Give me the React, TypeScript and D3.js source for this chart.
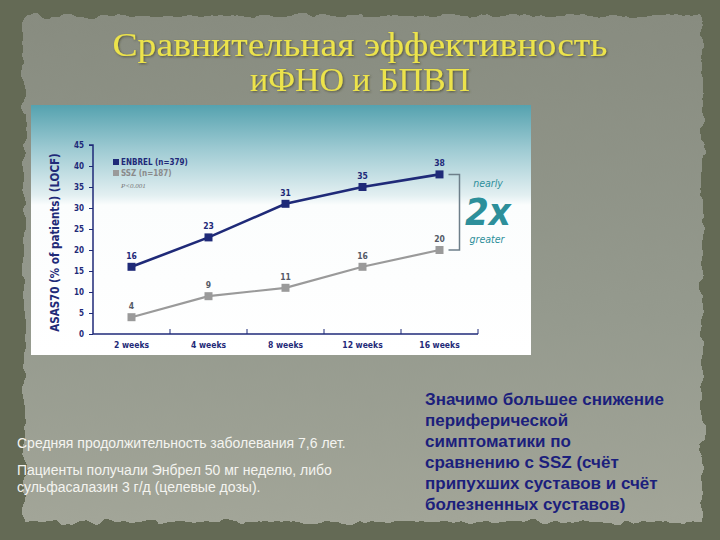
import * as d3 from "d3";
import { useEffect, useRef } from "react";

// chart data
const weeks = ["2 weeks", "4 weeks", "8 weeks", "12 weeks", "16 weeks"];
const enbrel = [16, 23, 31, 35, 38];
const ssz = [4, 9, 11, 16, 20];
const yTicks = [0, 5, 10, 15, 20, 25, 30, 35, 40, 45];

const titleLines = ["Сравнительная эффективность", "иФНО и БПВП"];
const noteLines = [
  "Средняя продолжительность заболевания 7,6 лет.",
  "",
  "Пациенты получали Энбрел 50 мг неделю, либо",
  "сульфасалазин 3 г/д (целевые дозы).",
];
const summaryLines = [
  "Значимо большее снижение",
  "периферической",
  "симптоматики по",
  "сравнению с SSZ (счёт",
  "припухших суставов и счёт",
  "болезненных суставов)",
];

const NAVY = "#1f2a78";
const GREY = "#9a9a9a";
const TEAL = "#2d8f9a";
const CHART_FONT = "'Liberation Sans Narrow', 'DejaVu Sans Condensed', 'Liberation Sans', sans-serif";

const App = () => {
  const ref = useRef<SVGSVGElement>(null);

  useEffect(() => {
    const svg = d3.select(ref.current);
    svg.selectAll("*").remove();

    const defs = svg.append("defs");
    const paper = defs.append("linearGradient").attr("id", "paper").attr("x1", 0).attr("y1", 0).attr("x2", 0).attr("y2", 1);
    paper.append("stop").attr("offset", 0).attr("stop-color", "#888c80");
    paper.append("stop").attr("offset", 0.6).attr("stop-color", "#959a8e");
    paper.append("stop").attr("offset", 1).attr("stop-color", "#a2a598");

    const sky = defs.append("linearGradient").attr("id", "sky").attr("x1", 0).attr("y1", 0).attr("x2", 0).attr("y2", 1);
    sky.append("stop").attr("offset", 0).attr("stop-color", "#55a2af");
    sky.append("stop").attr("offset", 0.18).attr("stop-color", "#9fcbd3");
    sky.append("stop").attr("offset", 0.36).attr("stop-color", "#e2eff1");
    sky.append("stop").attr("offset", 0.4).attr("stop-color", "#fbfdfd");
    sky.append("stop").attr("offset", 1).attr("stop-color", "#ffffff");

    const rough = defs.append("filter").attr("id", "rough").attr("x", "-5%").attr("y", "-5%").attr("width", "110%").attr("height", "110%");
    rough.append("feTurbulence").attr("type", "fractalNoise").attr("baseFrequency", 0.05).attr("numOctaves", 3).attr("result", "n");
    rough.append("feDisplacementMap").attr("in", "SourceGraphic").attr("in2", "n").attr("scale", 12);

    const shadow = defs.append("filter").attr("id", "shadow");
    shadow.append("feDropShadow").attr("dx", 1).attr("dy", 1).attr("stdDeviation", 0.8).attr("flood-color", "#3a3a20").attr("flood-opacity", 0.7);

    // slide background
    svg.append("rect").attr("width", 720).attr("height", 540).attr("fill", "#646a55");
    svg.append("rect").attr("x", 24).attr("y", 16).attr("width", 678).attr("height", 506)
      .attr("fill", "url(#paper)").attr("filter", "url(#rough)");

    // title
    svg.append("g").selectAll("text").data(titleLines).join("text")
      .attr("x", 360).attr("y", (_, i) => 56 + i * 35)
      .attr("text-anchor", "middle")
      .attr("font-family", "'Liberation Serif', 'DejaVu Serif', serif")
      .attr("font-size", 33)
      .attr("textLength", (_, i) => [495, 220][i])
      .attr("lengthAdjust", "spacingAndGlyphs")
      .attr("fill", "#ece34c")
      .attr("filter", "url(#shadow)")
      .text((d) => d);

    // chart picture
    svg.append("rect").attr("x", 31).attr("y", 105).attr("width", 500).attr("height", 250).attr("fill", "url(#sky)");

    const x = d3.scaleBand().domain(weeks).range([93, 478]);
    const y = d3.scaleLinear().domain([0, 45]).range([334, 145]);
    const cx = (d: string) => (x(d) as number) + x.bandwidth() / 2;

    const g = svg.append("g");
    // y axis
    const yAxis = g.append("g").attr("transform", "translate(93,0)")
      .call(d3.axisLeft(y).tickValues(yTicks).tickSize(4).tickPadding(5));
    yAxis.select(".domain").attr("stroke", NAVY).attr("stroke-width", 1.5).attr("d", `M-4,${y(45)}H0V${y(0)}`);
    yAxis.selectAll(".tick line").attr("stroke", NAVY);
    yAxis.selectAll(".tick text").attr("fill", NAVY).attr("font-family", CHART_FONT).attr("font-size", 8).attr("font-weight", "bold");

    // x axis
    const xAxis = g.append("g").attr("transform", `translate(0,${y(0)})`)
      .call(d3.axisBottom(x).tickSize(0).tickPadding(8));
    xAxis.select(".domain").attr("stroke", NAVY).attr("stroke-width", 1.5).attr("d", `M93,0H478`);
    xAxis.selectAll(".tick text").attr("fill", NAVY).attr("font-family", CHART_FONT).attr("font-size", 8.5).attr("font-weight", "bold");
    g.append("g").selectAll("line").data(weeks).join("line")
      .attr("x1", (d) => (x(d) as number) + x.bandwidth())
      .attr("x2", (d) => (x(d) as number) + x.bandwidth())
      .attr("y1", y(0)).attr("y2", y(0) - 5)
      .attr("stroke", NAVY).attr("stroke-width", 1);

    g.append("text")
      .attr("transform", `translate(59,${y(22.5) + 3}) rotate(-90)`)
      .attr("text-anchor", "middle")
      .attr("font-family", CHART_FONT).attr("font-weight", "bold").attr("font-size", 11.5)
      .attr("fill", NAVY)
      .text("ASAS70 (% of patients) (LOCF)");

    const line = d3.line<number>().x((_, i) => cx(weeks[i])).y((d) => y(d));
    const series = [
      { values: ssz, color: GREY, width: 2.2 },
      { values: enbrel, color: NAVY, width: 2.6 },
    ];
    series.forEach((s) => {
      g.append("path").attr("d", line(s.values)).attr("fill", "none").attr("stroke", s.color).attr("stroke-width", s.width);
      g.append("g").selectAll("rect").data(s.values).join("rect")
        .attr("x", (_, i) => cx(weeks[i]) - 4).attr("y", (d) => y(d) - 4)
        .attr("width", 8).attr("height", 8).attr("fill", s.color);
      g.append("g").selectAll("text").data(s.values).join("text")
        .attr("x", (_, i) => cx(weeks[i])).attr("y", (d) => y(d) - 8)
        .attr("text-anchor", "middle")
        .attr("font-family", CHART_FONT).attr("font-size", 8.5).attr("font-weight", "bold")
        .attr("fill", s.color === NAVY ? NAVY : "#555a66")
        .text((d) => d);
    });

    // legend
    const legend = [
      { label: "ENBREL (n=379)", color: NAVY },
      { label: "SSZ (n=187)", color: GREY },
    ];
    legend.forEach((l, i) => {
      g.append("rect").attr("x", 113).attr("y", 159 + i * 11).attr("width", 6).attr("height", 6).attr("fill", l.color);
      g.append("text").attr("x", 121).attr("y", 165 + i * 11)
        .attr("font-family", CHART_FONT).attr("font-size", 8).attr("font-weight", "bold")
        .attr("fill", l.color === NAVY ? NAVY : "#8a8a8a").text(l.label);
    });
    g.append("text").attr("x", 121).attr("y", 188)
      .attr("font-family", "'Liberation Serif', serif").attr("font-style", "italic").attr("font-size", 7)
      .attr("fill", "#777").text("P<0.001");

    // bracket
    const bx = cx(weeks[4]);
    g.append("path")
      .attr("d", `M${bx + 9},${y(enbrel[4])}H${bx + 20}V${y(ssz[4])}H${bx + 9}`)
      .attr("fill", "none").attr("stroke", "#6e7f8a").attr("stroke-width", 1.5);
    g.append("text").attr("x", 488).attr("y", 187).attr("text-anchor", "middle")
      .attr("font-family", CHART_FONT).attr("font-style", "italic").attr("font-size", 10.5).attr("fill", TEAL).text("nearly");
    g.append("text").attr("x", 488).attr("y", 225).attr("text-anchor", "middle")
      .attr("font-family", CHART_FONT).attr("font-style", "italic").attr("font-weight", "bold").attr("font-size", 38).attr("fill", TEAL).text("2x");
    g.append("text").attr("x", 487).attr("y", 243).attr("text-anchor", "middle")
      .attr("font-family", CHART_FONT).attr("font-style", "italic").attr("font-size", 10.5).attr("fill", TEAL).text("greater");

    // bottom-left notes
    svg.append("g").selectAll("text").data(noteLines).join("text")
      .attr("x", 17).attr("y", (_, i) => [448, 459, 475, 492][i])
      .attr("font-family", "'Liberation Sans', Arial, sans-serif").attr("font-size", 14)
      .attr("fill", "#f4f4f0")
      .text((d) => d);

    // bottom-right summary
    svg.append("g").selectAll("text").data(summaryLines).join("text")
      .attr("x", 425).attr("y", (_, i) => 405 + i * 20.9)
      .attr("font-family", "'Liberation Sans', Arial, sans-serif").attr("font-size", 17).attr("font-weight", "bold")
      .attr("fill", "#1c1f7c")
      .text((d) => d);
  }, []);

  return (
    <svg ref={ref} width={720} height={540} style={{ position: "absolute", left: 0, top: 0, display: "block" }} />
  );
};

export default App;
